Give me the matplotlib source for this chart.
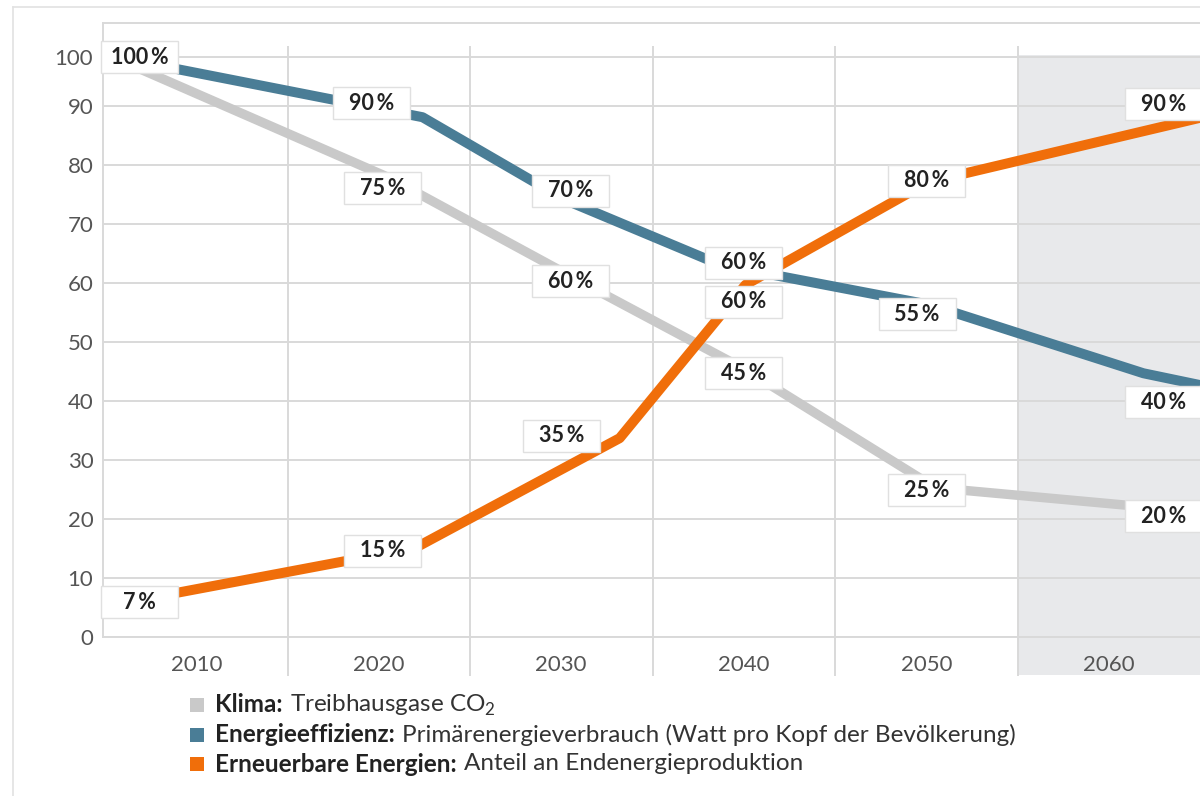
import matplotlib.pyplot as plt
from matplotlib.patches import Rectangle

plt.rcParams['font.family'] = ['Lato', 'DejaVu Sans']

# Linienverlauf (Jahr, Prozent) wie in der Grafik
klima_x = [2006.9, 2020.6, 2032.1, 2040.1, 2050.5, 2065]
klima = [96.3, 77.8, 58.5, 45.3, 25.3, 21.2]

effizienz_x = [2006.9, 2022.4, 2030.2, 2038.7, 2050.2, 2061.9, 2065]
effizienz = [97.5, 88.1, 74.1, 63.1, 56.3, 44.7, 42.7]

erneuerbar_x = [2006.9, 2022.0, 2033.2, 2040.1, 2050.1, 2065]
erneuerbar = [6.3, 15.1, 33.7, 59.7, 77.1, 88.0]

years = [2010, 2020, 2030, 2040, 2050, 2060]
yticks = [0, 10, 20, 30, 40, 50, 60, 70, 80, 90]
top_tick = 98.3  # die Linie "100" sitzt in der Vorlage etwas tiefer

# Beschriftungen der Werte
klima_lbl = ['75', '60', '45', '25', '20']
klima_lbl_x = [2020.2, 2030.5, 2040.0, 2050.0, 2063.0]
klima_lbl_y = [76.1, 60.3, 44.7, 24.9, 20.5]

eff_lbl = ['100', '90', '70', '60', '55', '40']
eff_lbl_x = [2006.9, 2019.6, 2030.5, 2040.0, 2049.5, 2063.0]
eff_lbl_y = [98.3, 90.5, 75.6, 63.4, 54.7, 39.8]

ee_lbl = ['7', '15', '35', '60', '80', '90']
ee_lbl_x = [2006.9, 2020.2, 2030.0, 2040.0, 2050.0, 2063.0]
ee_lbl_y = [5.9, 14.6, 34.1, 56.8, 77.3, 90.3]

c_gray = '#c9c9c9'
c_blue = '#4a7d96'
c_orange = '#f06e0a'
c_grid = '#d9d9d9'

W, H = 1200, 796
fig = plt.figure(figsize=(12, 7.96), dpi=100)
ax = fig.add_axes([103 / W, 1 - 637 / H, (1200 - 103) / W, (637 - 23) / H])

px_x = 18.25  # Pixel pro Jahr
px_y = 5.9    # Pixel pro Prozentpunkt
ax.set_xlim(2005 - 2 / px_x, 2065)
ax.set_ylim(0, (637 - 23) / px_y)


def py(ypx):
    return (637 - ypx) / px_y


# grauer Bereich 2060
ax.add_patch(Rectangle((2055, py(675)), 10, py(55) - py(675),
                       facecolor='#e8e9eb', edgecolor='none', zorder=0, clip_on=False))

for v in yticks + [top_tick]:
    ax.axhline(v, color=c_grid, lw=1.4, zorder=1)
for x in range(2015, 2060, 10):
    ax.plot([x, x], [py(675), py(47)], color=c_grid, lw=1.4, zorder=1, clip_on=False)

for s in ['left', 'top', 'bottom']:
    ax.spines[s].set_color(c_grid)
    ax.spines[s].set_linewidth(1.4)
ax.spines['right'].set_visible(False)

ax.set_yticks(yticks + [top_tick])
ax.set_yticklabels([str(v) for v in yticks] + ['100'], fontsize=16, color='#555555')
ax.set_xticks(years)
ax.set_xticklabels([str(y) for y in years], fontsize=16, color='#555555')
ax.tick_params(length=0)
ax.tick_params(axis='y', pad=7)
ax.tick_params(axis='x', pad=13)

ax.plot(klima_x, klima, color=c_gray, lw=6.8, zorder=3, solid_capstyle='butt')
ax.plot(erneuerbar_x, erneuerbar, color=c_orange, lw=7.2, zorder=4, solid_capstyle='butt')
ax.plot(effizienz_x, effizienz, color=c_blue, lw=7.2, zorder=5, solid_capstyle='butt')

bw, bh = 77 / px_x, 32 / px_y


def put_labels(vals, xs, ys):
    for t, x, y in zip(vals, xs, ys):
        ax.add_patch(Rectangle((x - bw / 2, y - bh / 2), bw, bh, facecolor='white',
                               edgecolor='#e0e0e0', lw=1.0, zorder=6, clip_on=False))
        ax.text(x, y, t + '\u2009%', ha='center', va='center', fontsize=15.5,
                fontweight='bold', color='#222222', zorder=7, clip_on=False)


put_labels(klima_lbl, klima_lbl_x, klima_lbl_y)
put_labels(eff_lbl, eff_lbl_x, eff_lbl_y)
put_labels(ee_lbl, ee_lbl_x, ee_lbl_y)

# äußerer Rahmen
fig.add_artist(plt.Line2D([13 / W, 13 / W], [0, 1 - 7 / H], color='#e2e2e2', lw=1.2))
fig.add_artist(plt.Line2D([13 / W, 1], [1 - 7 / H, 1 - 7 / H], color='#e2e2e2', lw=1.2))

# Legende
legend = [
    (c_gray, 'Klima:', 'Treibhausgase CO$_\\mathregular{2}$', 705),
    (c_blue, 'Energieeffizienz:', 'Primärenergieverbrauch (Watt pro Kopf der Bevölkerung)', 735),
    (c_orange, 'Erneuerbare Energien:', 'Anteil an Endenergieproduktion', 764),
]
renderer = fig.canvas.get_renderer()
for col, bold, rest, ypx in legend:
    fig.add_artist(Rectangle((190 / W, 1 - (ypx + 7) / H), 14 / W, 14 / H,
                             transform=fig.transFigure, facecolor=col, edgecolor='none'))
    t = fig.text(215 / W, 1 - ypx / H, bold, fontsize=17.5, fontweight='bold',
                 color='#222222', va='center')
    bb = t.get_window_extent(renderer)
    fig.text((bb.x1 + 7) / W, 1 - ypx / H, rest, fontsize=17.5, color='#333333',
             va='center')

fig.savefig('out.png', dpi=100)
